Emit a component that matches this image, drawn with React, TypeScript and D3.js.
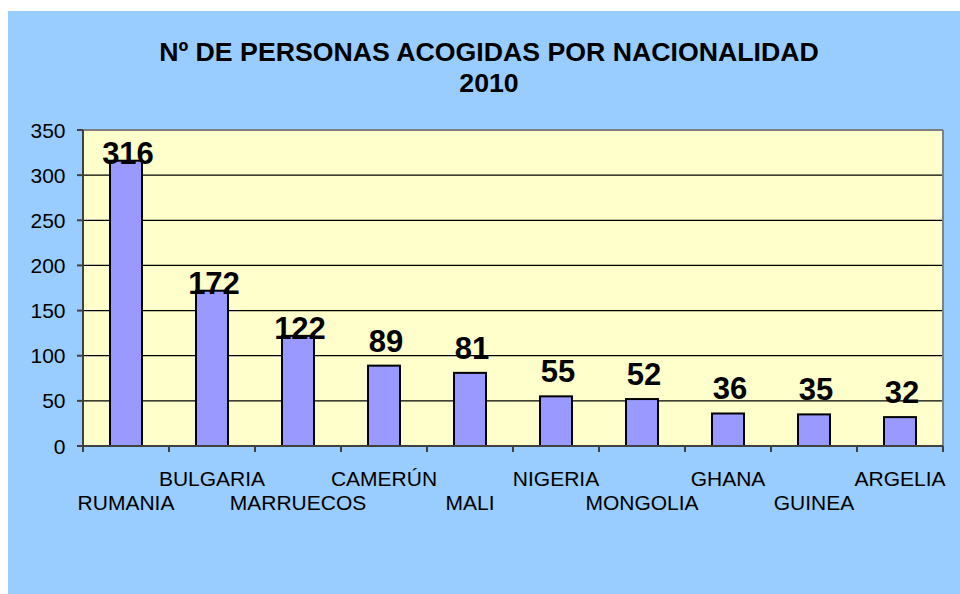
import React from "react";
import * as d3 from "d3";

const categories = ["RUMANIA", "BULGARIA", "MARRUECOS", "CAMERÚN", "MALI", "NIGERIA", "MONGOLIA", "GHANA", "GUINEA", "ARGELIA"];
const values = [316, 172, 122, 89, 81, 55, 52, 36, 35, 32];
const yTicks = [0, 50, 100, 150, 200, 250, 300, 350];
const titleLines = ["Nº DE PERSONAS ACOGIDAS POR NACIONALIDAD", "2010"];

const W = 960;
const H = 594;
const plot = { left: 83, right: 943, top: 130, bottom: 446 };
const FONT = "Arial, 'Liberation Sans', sans-serif";

export default function App() {
  const x = d3.scaleBand<string>().domain(categories).range([plot.left, plot.right]).paddingInner(0).paddingOuter(0);
  const y = d3.scaleLinear().domain([0, 350]).range([plot.bottom, plot.top]);
  const bw = x.bandwidth();
  const barW = bw * 0.372;
  const edges = categories.map((c) => x(c) as number).concat([plot.right]);

  return (
    <svg width={W} height={H} style={{ position: "absolute", left: 0, top: 0 }} fontFamily={FONT}>
      <rect x={0} y={0} width={W} height={H} fill="#ffffff" />
      <rect x={8} y={11} width={W - 8} height={H - 11} fill="#99CCFF" />
      {/* title */}
      <text x={489} y={61} textAnchor="middle" fontWeight="bold" fontSize={26.7} fill="#000">{titleLines[0]}</text>
      <text x={489} y={92} textAnchor="middle" fontWeight="bold" fontSize={26.7} fill="#000">{titleLines[1]}</text>
      {/* plot area */}
      <rect x={plot.left} y={plot.top} width={plot.right - plot.left} height={plot.bottom - plot.top} fill="#FFFFCC" />
      {yTicks.filter((t) => t > 0 && t < 350).map((t) => (
        <line key={"g" + t} x1={plot.left} x2={plot.right} y1={y(t)} y2={y(t)} stroke="#000" strokeWidth={1.3} />
      ))}
      {/* border top/right */}
      <line x1={plot.left} x2={plot.right} y1={plot.top} y2={plot.top} stroke="#808080" strokeWidth={2} />
      <line x1={plot.right} x2={plot.right} y1={plot.top} y2={plot.bottom} stroke="#808080" strokeWidth={2} />
      {/* bars */}
      {categories.map((c, i) => {
        const cx = (x(c) as number) + bw / 2;
        return (
          <rect key={c} x={cx - barW / 2} y={y(values[i])} width={barW} height={plot.bottom - y(values[i])}
            fill="#9999FF" stroke="#000" strokeWidth={2} />
        );
      })}
      {/* axes */}
      <line x1={plot.left} x2={plot.left} y1={plot.top} y2={plot.bottom} stroke="#404040" strokeWidth={2} />
      <line x1={plot.left} x2={plot.right} y1={plot.bottom} y2={plot.bottom} stroke="#404040" strokeWidth={2} />
      {yTicks.map((t) => (
        <g key={"t" + t}>
          <line x1={plot.left - 6} x2={plot.left} y1={y(t)} y2={y(t)} stroke="#404040" strokeWidth={2} />
          <text x={65.5} y={y(t) + 7.5} textAnchor="end" fontSize={21} fill="#000">{t}</text>
        </g>
      ))}
      {edges.map((e, i) => (
        <line key={"xt" + i} x1={e} x2={e} y1={plot.bottom} y2={plot.bottom + 6} stroke="#404040" strokeWidth={2} />
      ))}
      {/* category labels, staggered */}
      {categories.map((c, i) => (
        <text key={"l" + c} x={(x(c) as number) + bw / 2} y={i % 2 === 1 ? 486 : 510} textAnchor="middle" fontSize={21} fill="#000">{c}</text>
      ))}
      {/* value labels */}
      {categories.map((c, i) => {
        const v = values[i];
        const ly = v > 100 ? y(v) + 3 : y(v) - 14;
        return (
          <text key={"v" + c} x={(x(c) as number) + bw / 2 + 2} y={ly} textAnchor="middle" fontWeight="bold" fontSize={31} fill="#000">{v}</text>
        );
      })}
    </svg>
  );
}
